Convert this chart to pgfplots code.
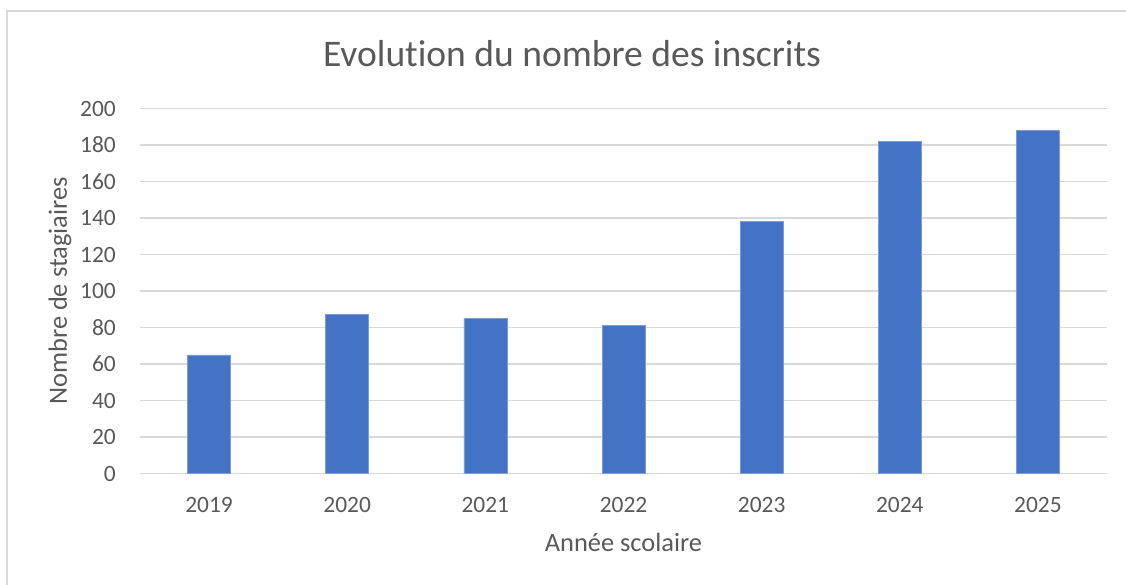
\documentclass[border=0pt]{standalone}
\usepackage{fontspec}
\setmainfont{Carlito}[Ligatures=NoCommon]
\usepackage{pgfplots}
\pgfplotsset{compat=1.18}
\definecolor{barblue}{HTML}{4472C4}
\definecolor{gridgray}{HTML}{D9D9D9}
\definecolor{txtgray}{HTML}{595959}
\begin{document}
\begin{tikzpicture}
\begin{axis}[
  at={(140bp,111.5bp)}, anchor=south west,
  scale only axis, width=967bp, height=365bp,
  xmin=-0.5, xmax=6.5, ymin=0, ymax=200,
  ytick={0,20,...,200},
  xtick={0,1,2,3,4,5,6},
  xticklabels={2019,2020,2021,2022,2023,2024,2025},
  axis line style={draw=none},
  tick style={draw=none},
  ymajorgrids, major grid style={draw=gridgray, line width=1.3bp},
  /pgf/number format/assume math mode=true,
  tick label style={font=\fontsize{23.5}{28}\selectfont, text=txtgray, inner sep=0pt},
  xticklabel style={yshift=-24bp},
  yticklabel style={xshift=-24bp},
  xlabel={Année scolaire},
  ylabel={Nombre de stagiaires},
  label style={font=\fontsize{26.5}{31}\selectfont, text=txtgray},
  xlabel style={at={(axis description cs:0.5,-0.19)}, anchor=center},
  ylabel style={at={(axis description cs:-0.0827,0.5)}, anchor=center, rotate=0},
]
\addplot[ybar, bar width=43bp, fill=barblue, draw=barblue!70!white, line width=0.6bp] coordinates {
  (0,65) (1,87) (2,85) (3,81) (4,138) (5,182) (6,188)
};
\end{axis}
\node[anchor=base, font=\fontsize{37.7}{44}\selectfont, text=txtgray] at (572bp,518bp) {Evolution du nombre des inscrits};
\draw[draw=gridgray, line width=1.3bp] (7bp,-5bp) -- (7bp,574bp) -- (1140bp,574bp);
\pgfresetboundingbox
\useasboundingbox (0,0) rectangle (1126bp,585bp);
\end{tikzpicture}
\end{document}
